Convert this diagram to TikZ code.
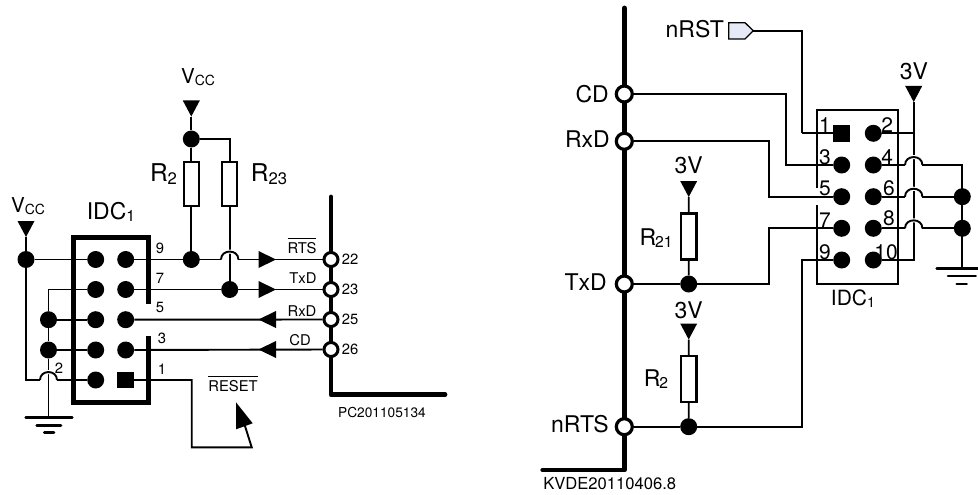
\documentclass[tikz,border=0pt]{standalone}
\usepackage{fontspec}
\setmainfont{TeX Gyre Heros}
\definecolor{tagfill}{HTML}{E6EAF6}
\newcommand\subtxt[1]{\raisebox{-.1em}{\scalebox{.68}{#1}}}
\newcommand\ovl[1]{\leavevmode\vbox{\hrule height 1.2pt \kern 2.6pt \hbox{#1}}}
\newcommand\hop[2]{%
  \draw[white,line width=4pt] (#1) .. controls +(0,-10.6) and +(0,-10.6) .. (#2);
  \draw[wire] (#1) .. controls +(0,-10.6) and +(0,-10.6) .. (#2);}
\newcommand\vtri[1]{\fill (#1) -- ++(-8.5,-16) -- ++(17,0) -- cycle;}
\newcommand\htri[3]{\fill (#1,#2) -- ++(#3*17.5,-8.5) -- ++(0,17) -- cycle;}
\tikzset{
  x=1pt,y=-1pt,
  wire/.style={line width=1.9pt},
  bus/.style={line width=4.8pt,line cap=round,line join=round},
  dot/.style={circle,fill=black,inner sep=0pt,minimum size=17pt},
  sqpin/.style={rectangle,fill=black,inner sep=0pt,minimum size=16.5pt},
  portl/.style={circle,draw=black,fill=white,line width=3pt,inner sep=0pt,minimum size=14pt},
  portr/.style={circle,draw=black,fill=white,line width=3.2pt,inner sep=0pt,minimum size=16pt},
  res/.style={rectangle,draw=black,fill=white,line width=2.4pt,inner sep=0pt,minimum width=15pt,minimum height=44pt},
  lab/.style={inner sep=0pt,font=\fontsize{14.8}{16}\selectfont},
  big/.style={inner sep=0pt,font=\fontsize{23}{24}\selectfont},
  pinno/.style={inner sep=0pt,font=\fontsize{21}{22}\selectfont},
  gnd/.style={line width=2.6pt,line cap=round},
}
\begin{document}
\begin{tikzpicture}
\useasboundingbox (0,0) rectangle (978,495);
% ---------- LEFT ----------
\draw[line width=5pt,line join=miter] (73.5,237) rectangle (148.5,402.5);
\draw[white,line width=5.4pt] (148.5,304) -- (148.5,336);
\coordinate (Lbt) at (331,197);
\coordinate (Lbc) at (331,394.7);
\coordinate (Lbe) at (445,394.7);
\draw[bus] (Lbt) -- (Lbc) -- (Lbe);
% pins
\node[dot] (L9a) at (95.7,259.5) {};
\node[dot] (L9b) at (125.7,259.5) {};
\node[dot] (L7a) at (95.7,289.5) {};
\node[dot] (L7b) at (125.7,289.5) {};
\node[dot] (L5a) at (95.7,319.7) {};
\node[dot] (L5b) at (125.7,319.7) {};
\node[dot] (L3a) at (95.7,350) {};
\node[dot] (L3b) at (125.7,350) {};
\node[dot] (L2) at (95.7,380) {};
\node[sqpin] (L1) at (125.7,380) {};
% other nodes
\node[dot] (Lv) at (26,259.5) {};
\node[dot] (La) at (48.5,319.7) {};
\node[dot] (Lb) at (48.5,350) {};
\node[dot] (Lr2) at (191.3,259.5) {};
\node[dot] (Lr23) at (229.7,289.5) {};
\node[dot] (Lvt) at (191.3,139) {};
\node[res] (R2) at (191.3,184) {};
\node[res] (R23) at (229.7,184) {};
\node[portl] (P22) at (331,259.5) {};
\node[portl] (P23) at (331,289.5) {};
\node[portl] (P25) at (331,319.5) {};
\node[portl] (P26) at (331,349.5) {};
\coordinate (Ltip1) at (26,237);
\coordinate (Ltip2) at (191.3,116.5);
\coordinate (Lg) at (48.5,417.7);
\coordinate (Lh1) at (40,380);
\coordinate (Lh2) at (57,380);
\coordinate (Lh3) at (221,259.5);
\coordinate (Lh4) at (238.4,259.5);
\coordinate (Lc2) at (26,380);
\coordinate (Lr1) at (191.7,380);
\coordinate (Lr3) at (191.7,447.3);
\coordinate (Lr4) at (251.7,447.3);
\coordinate (Lr5) at (245,426);
% verticals
\draw[wire] (Ltip1) -- (Lv);
\draw[wire] (Ltip2) -- (Lvt);
\draw[wire] (Lvt) -- (R2);
\draw[wire] (Lvt) -| (R23);
\draw[wire] (R2) -- (Lr2);
\draw[wire] (R23) -- (Lr23);
\draw[wire] (L7a) -| (La);
\draw[wire] (La) -- (Lb);
\draw[wire] (Lb) -- (Lg);
\hop{Lh1}{Lh2}
\hop{Lh3}{Lh4}
% horizontals
\draw[wire] (Lv) -- (L9a);
\draw[wire] (L9b) -- (Lr2) -- (Lh3);
\draw[wire] (Lh4) -- (P22);
\draw[wire] (L7b) -- (Lr23) -- (P23);
\draw[wire] (La) -- (L5a);
\draw[wire] (Lb) -- (L3a);
\draw[wire] (L5b) -- (P25);
\draw[wire] (L3b) -- (P26);
\draw[wire] (Lv) -- (Lc2) -- (Lh1);
\draw[wire] (Lh2) -- (L2);
\draw[wire] (L1) -- (Lr1) -- (Lr3) -- (Lr4) -- (Lr5);
\fill (236,402.3) -- (236,429.3) -- (252.7,423.3) -- cycle;
\vtri{Ltip1}
\vtri{Ltip2}
\htri{276}{259.5}{-1}
\htri{276}{289.5}{-1}
\htri{258.5}{319.5}{1}
\htri{258.5}{349.5}{1}
\draw[gnd] (25.7,417.7) -- (72.3,417.7) (36.7,425.3) -- (61,425.3) (44.3,432.3) -- (54,432.3);
% labels
\node[big] (tIDCl) at (111,212) {IDC\subtxt{1}};
\node[inner sep=0pt,font=\fontsize{20.5}{22}\selectfont] (tVl) at (28,206) {V\subtxt{CC}};
\node[inner sep=0pt,font=\fontsize{20.5}{22}\selectfont] (tVt) at (198,77) {V\subtxt{CC}};
\node[big,font=\fontsize{24.5}{26}\selectfont] (tR2) at (163.5,174) {R\subtxt{2}};
\node[big,font=\fontsize{24.5}{26}\selectfont] (tR23) at (269,174) {R\subtxt{23}};
\node[lab,anchor=base] (tRTS) at (302,253) {\ovl{RTS}};
\node[lab] (tTxD) at (303,278.5) {TxD};
\node[lab] (tRxD) at (302,311) {RxD};
\node[lab] (tCD) at (300,340.5) {CD};
\node[lab] (t9) at (160,248) {9};
\node[lab] (t7) at (160,278) {7};
\node[lab] (t5) at (160,307) {5};
\node[lab] (t3) at (162,338) {3};
\node[lab] (t1) at (162,369) {1};
\node[lab] (t2) at (59,368) {2};
\node[lab] (t22) at (350,259) {22};
\node[lab] (t23) at (350,289) {23};
\node[lab] (t25) at (350,319) {25};
\node[lab] (t26) at (350,349) {26};
\node[lab,anchor=base] (tRES) at (233,391) {\ovl{RESET}};
\node[inner sep=0pt,font=\fontsize{13.7}{15}\selectfont] (tPC) at (382,413) {PC201105134};
% ---------- RIGHT ----------
\draw[wire] (817.3,110) rectangle (897.7,284);
\draw[white,line width=2.6pt] (817.3,188) -- (817.3,205);
\node[sqpin] (R1) at (841.7,133.3) {};
\node[dot] (Rp2) at (873.3,133.3) {};
\node[dot] (Rp3) at (841.7,165) {};
\node[dot] (Rp4) at (873.3,165) {};
\node[dot] (Rp5) at (841.7,196.7) {};
\node[dot] (Rp6) at (873.3,196.7) {};
\node[dot] (Rp7) at (841.7,228.3) {};
\node[dot] (Rp8) at (873.3,228.3) {};
\node[dot] (Rp9) at (841.7,260) {};
\node[dot] (Rp10) at (873.3,260) {};
\coordinate (Rbt) at (624.3,8);
\coordinate (Rbc) at (624.3,470);
\coordinate (Rbe) at (542.7,470);
\draw[bus] (Rbt) -- (Rbc) -- (Rbe);
\node[portr] (PCD) at (624.3,94) {};
\node[portr] (PRx) at (624.3,141.3) {};
\node[portr] (PTx) at (624.3,284) {};
\node[portr] (PRT) at (624.3,426.7) {};
\node[dot] (DTx) at (688.7,284) {};
\node[dot] (DRT) at (688.7,426.7) {};
\node[dot] (D6) at (962.3,196.7) {};
\node[dot] (D8) at (962.3,228.3) {};
\node[res,minimum width=15.5pt,minimum height=46pt] (R21r) at (688.8,236.5) {};
\node[res,minimum width=15.5pt,minimum height=46pt] (R2r) at (688.8,379) {};
\coordinate (Rtip0) at (913.7,102);
\coordinate (Rtip1) at (688.7,197);
\coordinate (Rtip2) at (688.7,339.5);
\coordinate (Rj10) at (913.7,260);
\coordinate (Rj2) at (913.7,133.3);
\coordinate (Rg) at (962.3,268.3);
\coordinate (Rg4) at (962.3,165);
\coordinate (H1a) at (905,165);
\coordinate (H1b) at (922.4,165);
\coordinate (H2a) at (905,196.7);
\coordinate (H2b) at (922.4,196.7);
\coordinate (H3a) at (905,228.3);
\coordinate (H3b) at (922.4,228.3);
\coordinate (C1) at (801.7,30.7);
\coordinate (C2) at (801.7,133.3);
\coordinate (C3) at (785.7,94);
\coordinate (C4) at (785.7,165);
\coordinate (C5) at (769,141.3);
\coordinate (C6) at (769,196.7);
\coordinate (C7) at (769,284);
\coordinate (C8) at (769,228.3);
\coordinate (C9) at (801.7,426.7);
\coordinate (C10) at (801.7,260);
\draw[wire] (Rtip0) -- (Rj10) -- (Rp10);
\draw[wire] (Rp2) -- (Rj2);
\hop{H1a}{H1b}
\hop{H2a}{H2b}
\hop{H3a}{H3b}
\draw[wire] (Rp4) -- (H1a);
\draw[wire] (H1b) -- (Rg4) -- (Rg);
\draw[wire] (Rp6) -- (H2a);
\draw[wire] (H2b) -- (D6);
\draw[wire] (Rp8) -- (H3a);
\draw[wire] (H3b) -- (D8);
\draw[wire] (PCD) -- (C3) -- (C4) -- (Rp3);
\draw[wire] (PRx) -- (C5) -- (C6) -- (Rp5);
\draw[wire] (PTx) -- (DTx) -- (C7) -- (C8) -- (Rp7);
\draw[wire] (PRT) -- (DRT) -- (C9) -- (C10) -- (Rp9);
\draw[wire] (C2) -- (R1);
\draw[wire] (Rtip1) -- (R21r);
\draw[wire] (R21r) -- (DTx);
\draw[wire] (Rtip2) -- (R2r);
\draw[wire] (R2r) -- (DRT);
\vtri{Rtip0}
\vtri{Rtip1}
\vtri{Rtip2}
\path[draw=black,fill=tagfill,line width=1.3pt] (728.7,22.7) -- (745,22.7) -- (753.3,30.7) -- (745,39) -- (728.7,39) -- cycle;
\coordinate (Rst) at (753.3,30.7);
\draw[wire] (Rst) -- (C1) -- (C2);
\draw[gnd] (936.7,268.3) -- (978,268.3) (948,276) -- (975.7,276) (956.7,284) -- (966.7,284);
% labels
\node[big,anchor=east] (tCDr) at (609,94) {CD};
\node[big,anchor=east] (tRxr) at (610,139) {RxD};
\node[big,anchor=east] (tTxr) at (607,282) {TxD};
\node[big,anchor=east] (tRTr) at (609,424) {nRTS};
\node[big,anchor=east] (tRST) at (724,29) {nRST};
\node[big] (t3V0) at (914,71.7) {3V};
\node[big] (t3V1) at (688.7,165) {3V};
\node[big] (t3V2) at (688.7,310) {3V};
\node[big] (tR21) at (656,238) {R\kern-1pt\subtxt{21}};
\node[big] (tR2r) at (656,379) {R\kern-1pt\subtxt{2}};
\node[pinno] (tIDCr) at (853,299) {IDC\subtxt{1}};
\node[pinno] (r1) at (825,125) {1};
\node[pinno] (r2) at (887.3,125) {2};
\node[pinno] (r3) at (825,157) {3};
\node[pinno] (r4) at (887.3,157) {4};
\node[pinno] (r5) at (825,188) {5};
\node[pinno] (r6) at (889,188) {6};
\node[pinno] (r7) at (825,220) {7};
\node[pinno] (r8) at (889,218) {8};
\node[pinno] (r9) at (825,252) {9};
\node[pinno] (r10) at (886,252) {10};
\node[inner sep=0pt,font=\fontsize{16.6}{18}\selectfont] (tKV) at (609.7,484) {KVDE20110406.8};
\end{tikzpicture}
\end{document}
